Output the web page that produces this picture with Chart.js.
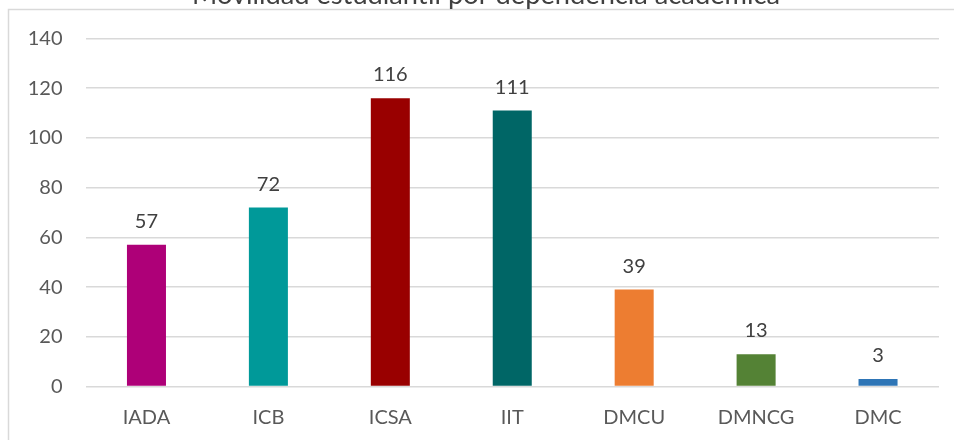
<!DOCTYPE html>
<html>
<head>
<meta charset="utf-8">
<script src="https://cdn.jsdelivr.net/npm/chart.js@4"></script>
<style>
html,body{margin:0;padding:0;background:#fff;}
#wrap{width:954px;height:440px;position:relative;}
</style>
</head>
<body>
<div id="wrap"><canvas id="c" width="954" height="440"></canvas></div>
<script>
const categories = ["IADA", "ICB", "ICSA", "IIT", "DMCU", "DMNCG", "DMC"];
const values = [57, 72, 116, 111, 39, 13, 3];
const yTicks = [0, 20, 40, 60, 80, 100, 120, 140];
const chartTitle = "Movilidad estudiantil por dependencia académica";
const barColors = ["#AE0078", "#009999", "#990000", "#006666", "#ED7D31", "#548235", "#2E75B6"];

const FONT = "Lato, 'Open Sans', sans-serif";

const frameAndTitle = {
  id: 'frameAndTitle',
  beforeDraw(chart) {
    const ctx = chart.ctx;
    ctx.save();
    ctx.fillStyle = '#fff';
    ctx.fillRect(0, 0, chart.width, chart.height);
    ctx.strokeStyle = '#D9D9D9';
    ctx.lineWidth = 1.5;
    ctx.strokeRect(8.5, 9.5, chart.width + 10, chart.height + 10);
    // title (mostly cropped above the top edge)
    let size = 24;
    ctx.font = size + 'px ' + FONT;
    const w = ctx.measureText(chartTitle).width;
    size = size * 588 / w;
    ctx.font = size + 'px ' + FONT;
    ctx.fillStyle = '#404040';
    ctx.textAlign = 'center';
    ctx.textBaseline = 'alphabetic';
    ctx.fillText(chartTitle, 486, 4);
    ctx.restore();
  },
  afterDatasetsDraw(chart) {
    const ctx = chart.ctx;
    const meta = chart.getDatasetMeta(0);
    ctx.save();
    ctx.font = '20px ' + FONT;
    ctx.fillStyle = '#404040';
    ctx.textAlign = 'center';
    ctx.textBaseline = 'alphabetic';
    meta.data.forEach((bar, i) => {
      ctx.fillText(String(chart.data.datasets[0].data[i]), bar.x, bar.y - 17);
    });
    ctx.restore();
  }
};

new Chart(document.getElementById('c'), {
  type: 'bar',
  data: {
    labels: categories,
    datasets: [{
      data: values,
      backgroundColor: barColors,
      borderWidth: 0,
      barPercentage: 0.64,
      categoryPercentage: 0.5
    }]
  },
  options: {
    responsive: false,
    animation: false,
    devicePixelRatio: 1,
    layout: { padding: { left: 0, right: 15, top: 38.5, bottom: 0 } },
    plugins: { legend: { display: false }, title: { display: false }, tooltip: { enabled: false } },
    scales: {
      x: {
        grid: { display: false, drawTicks: false },
        border: { display: false },
        ticks: { color: '#595959', font: { family: FONT, size: 20 }, padding: 19, maxRotation: 0 },
        afterFit(s) { s.height = 53.5; }
      },
      y: {
        min: 0, max: 140,
        afterBuildTicks(s) { s.ticks = yTicks.map(v => ({ value: v })); },
        grid: { color: '#D9D9D9', lineWidth: 1.5, drawTicks: false },
        border: { display: false },
        ticks: { color: '#595959', font: { family: FONT, size: 20 }, padding: 23 },
        afterFit(s) { s.width = 85.5; }
      }
    }
  },
  plugins: [frameAndTitle]
});
</script>
</body>
</html>
